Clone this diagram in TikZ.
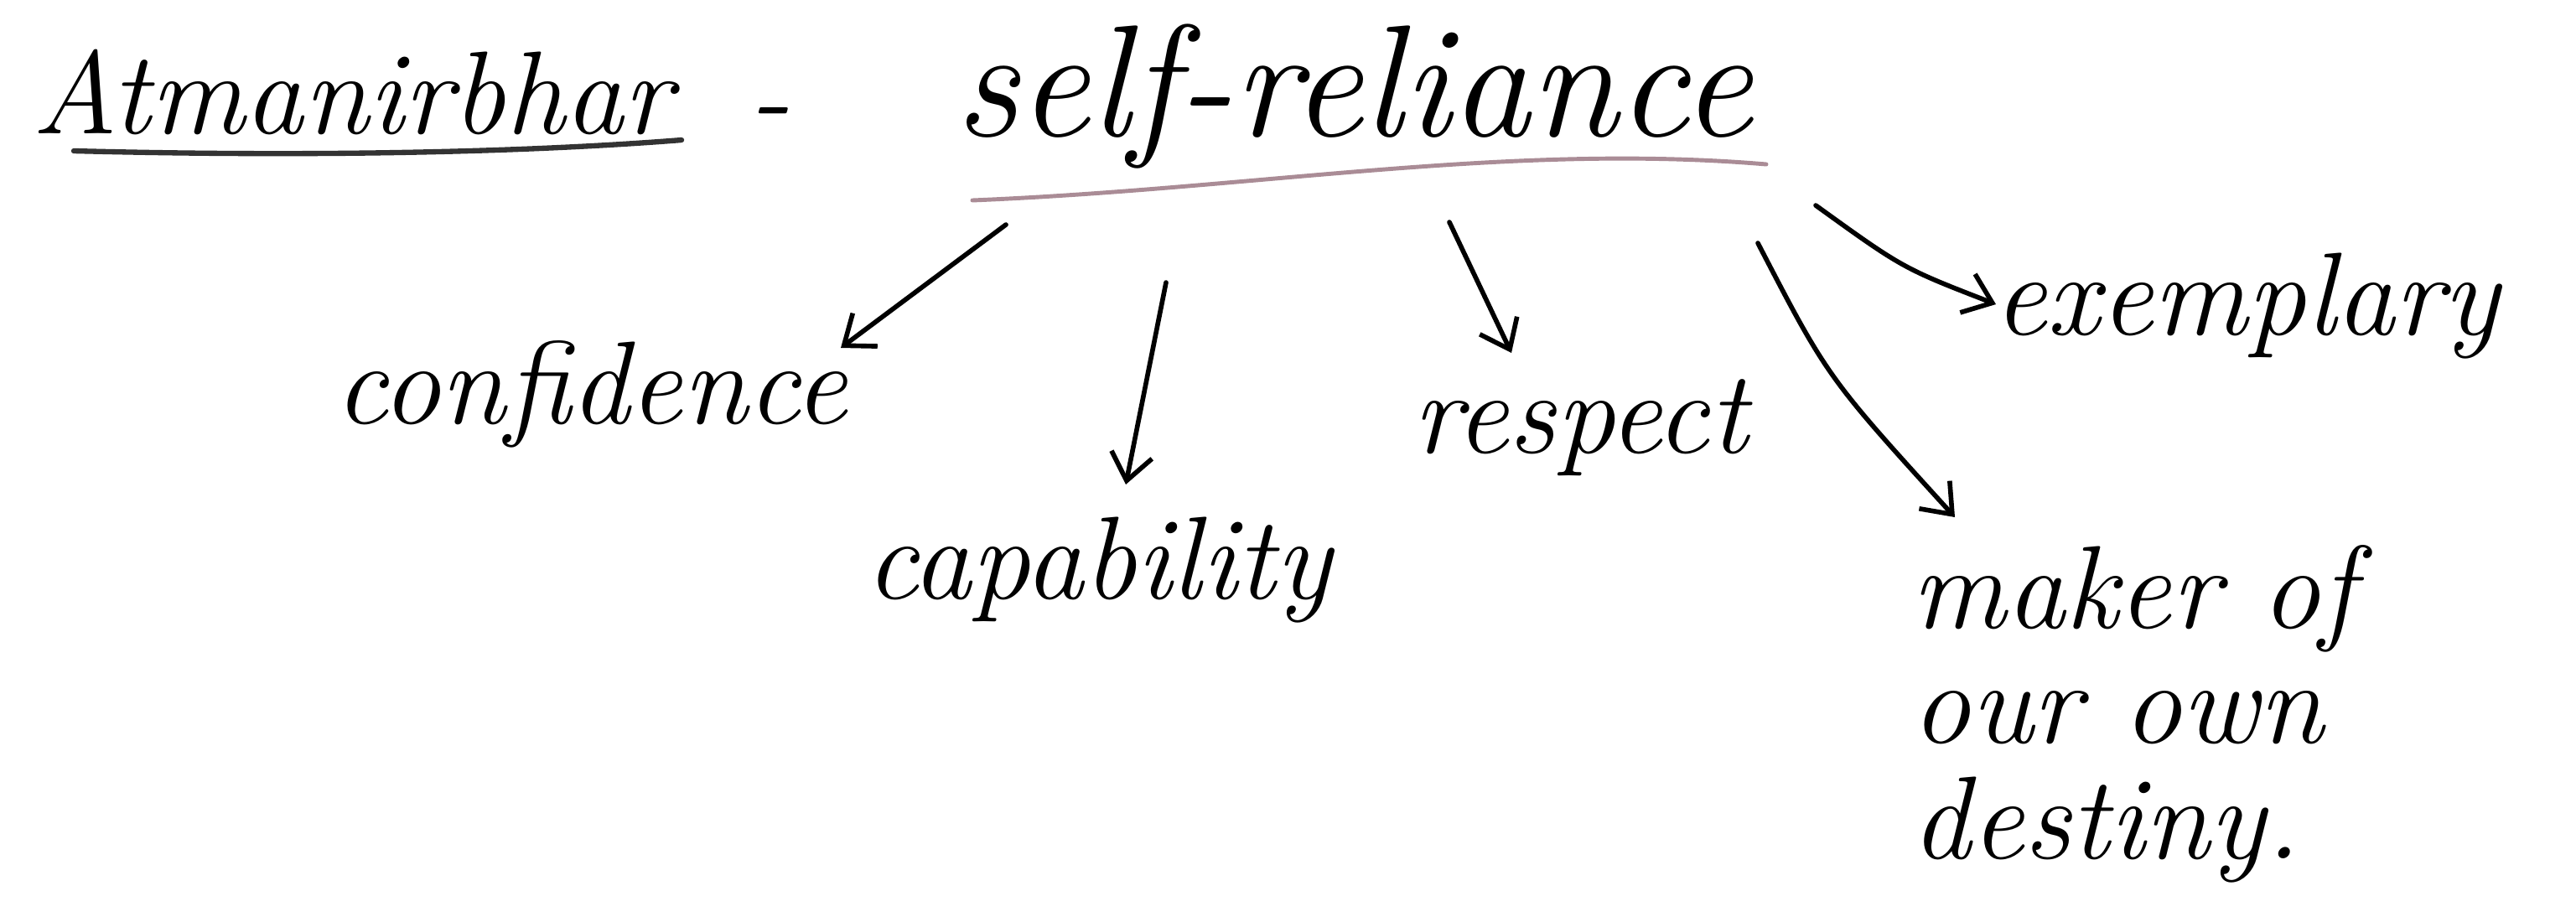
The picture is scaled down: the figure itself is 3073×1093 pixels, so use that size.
\documentclass[tikz,border=0pt]{standalone}
\usetikzlibrary{arrows.meta}
\begin{document}
\begin{tikzpicture}[x=0.01cm,y=-0.01cm,
  hand/.style={font=\fontsize{40}{46}\selectfont\itshape, inner sep=0pt, text=black},
  conn/.style={line width=1.6pt, line cap=round, -{Straight Barb[length=9pt,width=14pt,line width=1.6pt]}},
  uline/.style={line width=1.8pt, line cap=round}]
\useasboundingbox (0,0) rectangle (3073,1093);
\fill[white] (0,0) rectangle (3073,1093);
\node[hand, anchor=center] (atma) at (420,110) {Atmanirbhar};
\node[hand, anchor=center] (dash) at (918,145) {-};
\node[hand, anchor=center, font=\fontsize{54}{60}\selectfont\itshape] (self) at (1615,115) {self-reliance};
\coordinate (u1) at (88,180);
\coordinate (u2) at (813,167);
\draw[uline, black!80] (u1) .. controls (400,188) and (650,180) .. (u2);
\coordinate (s1) at (1160,239);
\coordinate (s2) at (2107,196);
\draw[uline, line width=1.4pt, color={rgb,255:red,170;green,140;blue,150}] (s1) .. controls (1500,225) and (1800,170) .. (s2);
\node[hand] (conf) at (705,470) {confidence};
\node[hand] (capa) at (1310,680) {capability};
\node[hand] (resp) at (1885,510) {respect};
\node[hand] (exem) at (2680,365) {exemplary};
\node[hand, align=left, anchor=north west, font=\fontsize{40}{39}\selectfont\itshape] (make) at (2280,650) {maker of\\our own\\destiny.};
\coordinate (a1) at (1200,268);
\coordinate (a2) at (1391,337);
\coordinate (a3) at (1729,265);
\coordinate (a4) at (2097,290);
\coordinate (a5) at (2166,245);
\draw[conn] (a1) -- (1003,415) coordinate (c1);
\draw[conn] (a2) -- (1343,578) coordinate (c2);
\draw[conn] (a3) -- (1803,421) coordinate (c3);
\draw[conn] (a4) .. controls (2180,450) .. (2332,617) coordinate (c4);
\draw[conn] (a5) .. controls (2270,320) .. (2381,363) coordinate (c5);
\end{tikzpicture}
\end{document}
